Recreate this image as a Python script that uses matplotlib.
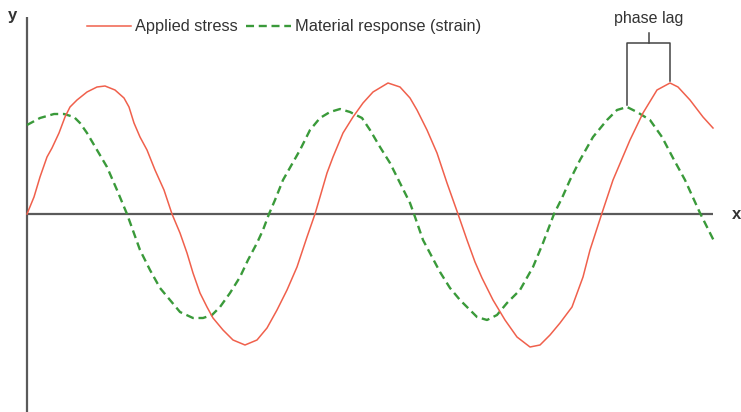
import numpy as np
import matplotlib
matplotlib.use("Agg")
import matplotlib.pyplot as plt
from matplotlib.lines import Line2D

plt.rcParams['font.family'] = ['Liberation Sans', 'DejaVu Sans']

# values (x along the time axis, y above/below the x axis)
stress_x = [0, 7, 13, 20, 25, 32, 38, 43, 50, 60, 70, 78, 88, 97, 102, 107, 113, 120, 128, 137, 145,
            153, 160, 166, 173, 180, 186, 196, 206, 218, 230, 240, 250, 260, 270, 280, 288,
            293, 300, 306, 316, 326, 336, 346, 361, 373, 383, 390, 400, 410, 420, 431,
            440, 448, 455, 466, 478, 490, 503, 513, 523, 533, 545, 556, 563, 575,
            586, 603, 616, 630, 643, 651, 663, 676, 686]
stress_y = [0, 17, 37, 57, 66, 81, 97, 107, 114, 122, 127, 128, 124, 116, 107, 91, 77, 64, 44, 24, 0,
            -19, -39, -59, -79, -93, -104, -116, -126, -131, -126, -114, -96, -76, -53, -23, 0,
            17, 41, 57, 81, 97, 111, 122, 131, 127, 116, 104, 84, 61, 31, 0,
            -26, -48, -64, -86, -106, -123, -133, -131, -121, -109, -93, -63, -36, 1,
            34, 74, 101, 124, 131, 127, 114, 97, 86]

strain_x = [0, 13, 27, 37, 47, 53, 60, 70, 80, 90, 100,
            113, 123, 133, 143, 153, 166, 176, 185, 193, 203, 213, 221, 230, 236, 242,
            248, 256, 273, 283, 293, 303, 313, 323, 335, 343, 353, 363, 373, 383, 387,
            396, 413, 423, 433, 443, 450, 460, 470, 480, 493, 506, 516, 527, 535,
            543, 553, 566, 580, 590, 600, 610, 623, 635, 646, 658, 673, 680, 688]
strain_y = [89, 96, 100, 100, 97, 91, 81, 64, 47, 24, 0,
            -36, -56, -74, -86, -98, -104, -104, -101, -93, -79, -63, -46, -29, -16, 0,
            14, 34, 64, 84, 96, 102, 105, 102, 96, 84, 67, 51, 31, 11, 0,
            -26, -58, -74, -86, -96, -103, -106, -101, -89, -76, -53, -29, 0, 16,
            34, 54, 77, 94, 104, 107, 102, 94, 77, 56, 34, 1, -13, -29]

labels = ["Applied stress", "Material response (strain)"]

red = "#f0604c"
green = "#3a9a3a"
axis_col = "#5a5a5a"

fig = plt.figure(figsize=(7.41, 4.12), dpi=100)
ax = fig.add_axes([0, 0, 1, 1])
ax.set_xlim(-27, 714)
ax.set_ylim(-198, 214)
ax.axis("off")

# axes through the origin
ax.plot([0, 686], [0, 0], color=axis_col, lw=1.6, solid_capstyle="butt", zorder=1)
ax.plot([0, 0], [-198, 197], color=axis_col, lw=1.6, solid_capstyle="butt", zorder=1)
ax.text(710, 0, "x", fontsize=12, fontweight="bold", color="#333333", ha="center", va="center")
ax.text(-15, 199, "y", fontsize=12, fontweight="bold", color="#333333", ha="center", va="center")

ax.plot(stress_x, stress_y, color=red, lw=1.1, solid_joinstyle="round", zorder=3)
ax.plot(strain_x, strain_y, color=green, lw=1.7, dashes=(3.4, 2.0), zorder=2)

# phase lag bracket between the last two peaks
sx = np.array(stress_x); sy = np.array(stress_y)
gx = np.array(strain_x); gy = np.array(strain_y)
m = sx > 560
ip = np.argmax(sy[m]); px_r, py_r = sx[m][ip], sy[m][ip]
m2 = gx > 560
ig = np.argmax(gy[m2]); px_g, py_g = gx[m2][ig], gy[m2][ig]
top = 171
ax.plot([px_g, px_g, px_r, px_r], [py_g + 2, top, top, py_r + 2], color="#444444", lw=1.1)
mid = (px_g + px_r) / 2
ax.plot([mid, mid], [top, top + 10], color="#444444", lw=1.1)
ax.text(mid, 196, "phase lag", fontsize=11.5, color="#333333", ha="center", va="center")

handles = [Line2D([], [], color=red, lw=1.1),
           Line2D([], [], color=green, lw=1.7, dashes=(3.4, 2.0))]
ax.legend(handles, labels, ncol=2, loc="center left", bbox_to_anchor=(87 / 741, 1 - 27 / 412),
          bbox_transform=fig.transFigure, frameon=False, fontsize=11.8, handlelength=2.7,
          handletextpad=0.25, columnspacing=0.5, borderpad=0, borderaxespad=0,
          labelcolor="#333333")

fig.savefig("out.png", dpi=100)
